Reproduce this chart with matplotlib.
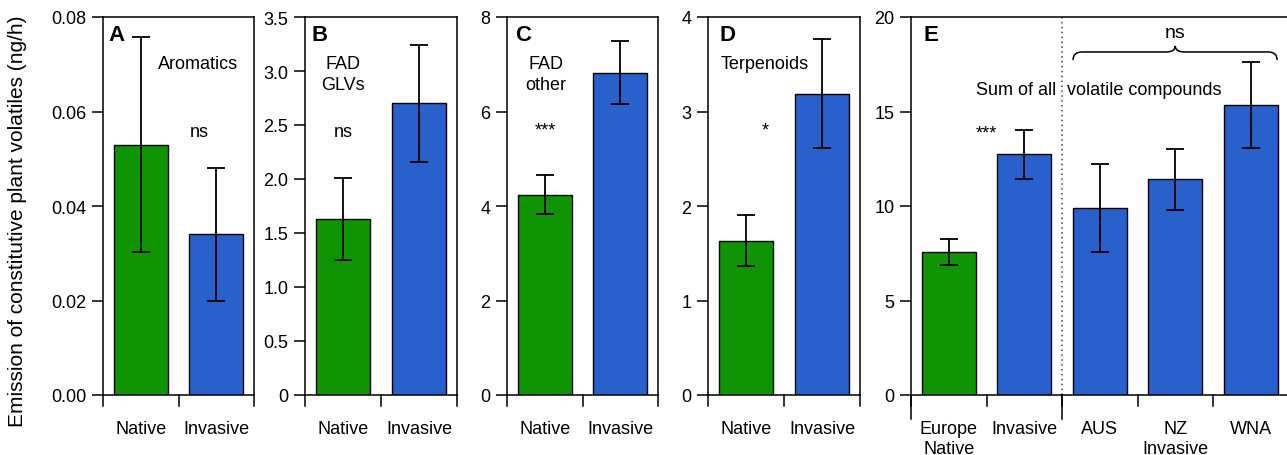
import matplotlib.pyplot as plt
from matplotlib.path import Path
from matplotlib.patches import PathPatch

plt.rcParams['font.family'] = ['Liberation Sans', 'DejaVu Sans']

GREEN = '#0f9403'
BLUE = '#2961cc'

# Paneles A-D: nativo vs invasor
labels_2 = ['Native', 'Invasive']
arom_mean = [0.053, 0.034]
arom_err = [0.0227, 0.014]
glv_mean = [1.63, 2.70]
glv_err = [0.38, 0.54]
fad_mean = [4.24, 6.82]
fad_err = [0.41, 0.67]
terp_mean = [1.63, 3.19]
terp_err = [0.27, 0.575]

# Panel E: suma de todos los volátiles
labels_e = ['Europe\nNative', 'Invasive', 'AUS', 'NZ\nInvasive', 'WNA']
sum_mean = [7.55, 12.73, 9.89, 11.41, 15.33]
sum_err = [0.68, 1.31, 2.34, 1.61, 2.27]

W, H = 1287, 456
fig = plt.figure(figsize=(W / 100, H / 100), dpi=100)
bot = (H - 396) / H
hgt = 378 / H


def panel(left_px, width_px, labels, mean, err, colors, ymax, yticks, yticklabels):
    ax = fig.add_axes([left_px / W, bot, width_px / W, hgt])
    n = len(labels)
    x = [i + 0.5 for i in range(n)]
    ax.bar(x, mean, width=0.71, color=colors, edgecolor='black', linewidth=1.0, zorder=2)
    ax.errorbar(x, mean, yerr=err, fmt='none', ecolor='black', elinewidth=1.3,
                capsize=6.3, capthick=1.3, zorder=3)
    ax.set_xlim(0, n)
    ax.set_ylim(0, ymax)
    ax.set_yticks(yticks)
    ax.set_yticklabels(yticklabels)
    ax.set_xticks(x)
    ax.set_xticklabels(labels, va='top', linespacing=1.2)
    ax.tick_params(axis='y', direction='out', length=8, width=1.1, labelsize=13, pad=4)
    ax.tick_params(axis='x', length=0, labelsize=13, pad=18)
    for s in ax.spines.values():
        s.set_linewidth(1.1)
    # separadores de categoría bajo el eje
    tr = ax.get_xaxis_transform()
    for i in range(n + 1):
        ax.plot([i, i], [0, -0.03], transform=tr, clip_on=False, color='black', lw=1.1)
    return ax


axA = panel(103, 151, labels_2, arom_mean, arom_err, [GREEN, BLUE], 0.08,
            [0, 0.02, 0.04, 0.06, 0.08], ['0.00', '0.02', '0.04', '0.06', '0.08'])
axB = panel(305, 152, labels_2, glv_mean, glv_err, [GREEN, BLUE], 3.5,
            [0, 0.5, 1, 1.5, 2, 2.5, 3, 3.5], ['0', '0.5', '1.0', '1.5', '2.0', '2.5', '3.0', '3.5'])
axC = panel(507, 151, labels_2, fad_mean, fad_err, [GREEN, BLUE], 8,
            [0, 2, 4, 6, 8], ['0', '2', '4', '6', '8'])
axD = panel(708, 152, labels_2, terp_mean, terp_err, [GREEN, BLUE], 4,
            [0, 1, 2, 3, 4], ['0', '1', '2', '3', '4'])
axE = panel(911, 377.5, labels_e, sum_mean, sum_err, [GREEN] + [BLUE] * 4, 20,
            [0, 5, 10, 15, 20], ['0', '5', '10', '15', '20'])

# letras de panel
for ax, lx, let in [(axA, 0.066, 'A'), (axB, 0.092, 'B'), (axC, 0.106, 'C'),
                    (axD, 0.145, 'D'), (axE, 0.16, 'E')]:
    ax.text(lx, 0.955, let, transform=ax.get_xaxis_transform(), fontsize=16,
            fontweight='bold', ha='left', va='center')

fs = 13
tA = axA.get_xaxis_transform()
axA.text(1.26, 0.876, 'Aromatics', transform=tA, fontsize=fs, ha='center', va='center')
axA.text(1.27, 0.698, 'ns', transform=tA, fontsize=fs, ha='center', va='center')

tB = axB.get_xaxis_transform()
axB.text(0.5, 0.849, 'FAD\nGLVs', transform=tB, fontsize=fs, ha='center', va='center',
         linespacing=1.25)
axB.text(0.5, 0.698, 'ns', transform=tB, fontsize=fs, ha='center', va='center')

tC = axC.get_xaxis_transform()
axC.text(0.51, 0.849, 'FAD\nother', transform=tC, fontsize=fs, ha='center', va='center',
         linespacing=1.25)
axC.text(0.51, 0.70, '***', transform=tC, fontsize=fs, ha='center', va='center')

tD = axD.get_xaxis_transform()
axD.text(0.74, 0.876, 'Terpenoids', transform=tD, fontsize=fs, ha='center', va='center')
axD.text(0.75, 0.70, '*', transform=tD, fontsize=fs, ha='center', va='center')

tE = axE.get_xaxis_transform()
axE.text(1.0, 0.693, '***', transform=tE, fontsize=fs, ha='center', va='center')
axE.text(1.92, 0.807, 'Sum of all', transform=tE, fontsize=fs, ha='right', va='center')
axE.text(2.07, 0.807, 'volatile compounds', transform=tE, fontsize=fs, ha='left', va='center')
axE.text(3.5, 0.96, 'ns', transform=tE, fontsize=14, ha='center', va='center')

# línea punteada que separa los rangos invasores
axE.plot([2, 2], [0, 1], transform=tE, ls=(0, (1, 2.2)), color='#444444', lw=1.1, zorder=1)
axE.plot([2, 2], [0, -0.0635], transform=tE, clip_on=False, color='black', lw=1.1)
axE.plot([0, 0], [0, -0.0635], transform=tE, clip_on=False, color='black', lw=1.1)

# llave sobre AUS/NZ/WNA
x0, x1, xm = 2.146, 4.85, 3.5
ye, ym, yp = 17.72, 18.15, 18.47
d = 0.12
verts = [(x0, ye), (x0, ym), (x0 + d, ym), (xm - d, ym), (xm, ym), (xm, yp),
         (xm, ym), (xm + d, ym), (x1 - d, ym), (x1, ym), (x1, ye)]
codes = [Path.MOVETO, Path.CURVE3, Path.CURVE3, Path.LINETO, Path.CURVE3, Path.CURVE3,
         Path.CURVE3, Path.CURVE3, Path.LINETO, Path.CURVE3, Path.CURVE3]
axE.add_patch(PathPatch(Path(verts, codes), fc='none', ec='black', lw=1.1, clip_on=False))

fig.text(18 / W, 1 - 221 / H, 'Emission of constitutive plant volatiles (ng/h)',
         rotation=90, ha='center', va='center', fontsize=15)

fig.savefig('out.png', dpi=100)
